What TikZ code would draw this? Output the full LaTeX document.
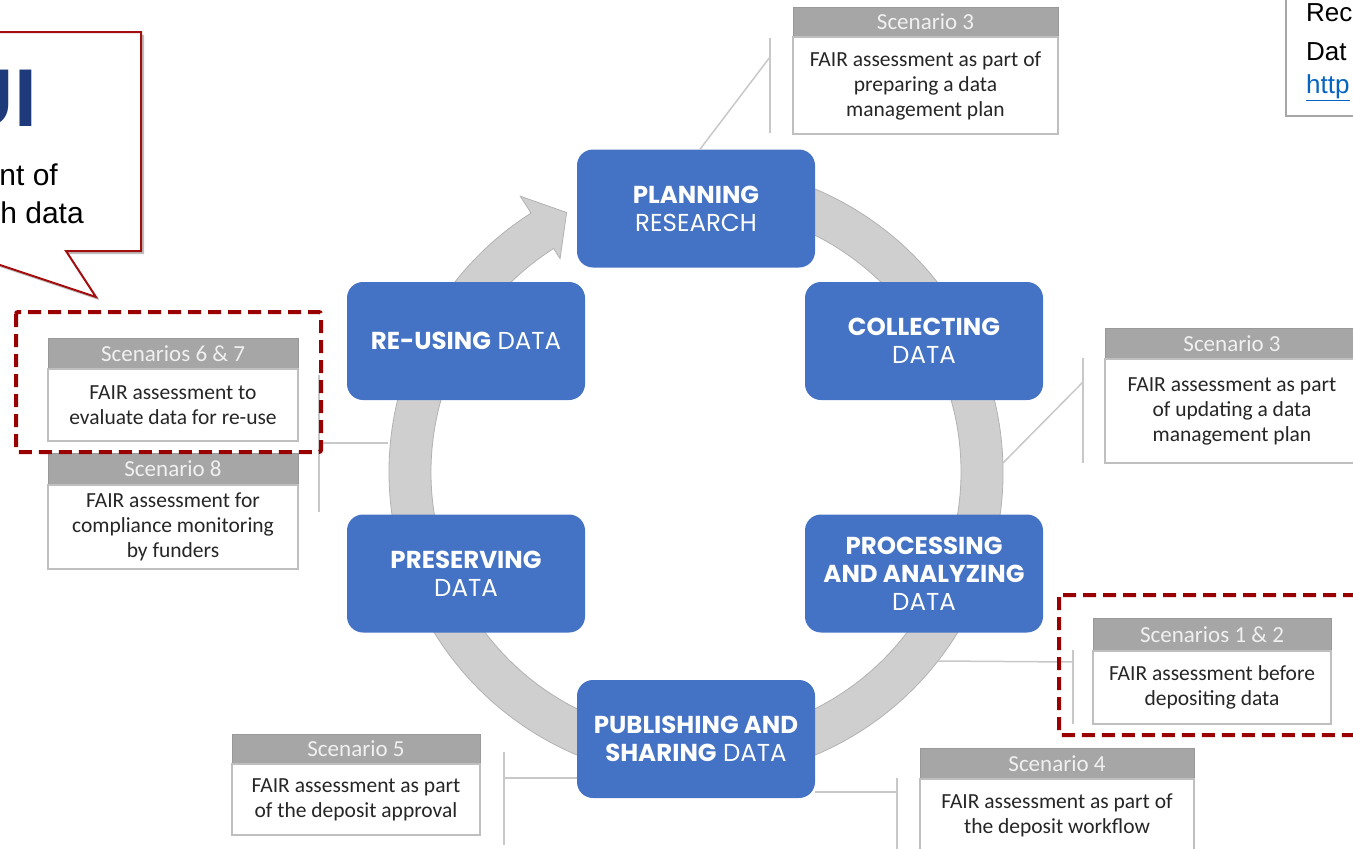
\documentclass[tikz,border=0pt]{standalone}
\usepackage{fontspec}
\setmainfont{Liberation Sans}
\newfontfamily\carlito{Carlito}
\newfontfamily\gothic{Poppins}
\usetikzlibrary{calc,shadows}
\definecolor{boxblue}{HTML}{4472C4}
\definecolor{ringfill}{HTML}{CFCFCF}
\definecolor{ringedge}{HTML}{B2B2B2}
\definecolor{hdrgray}{HTML}{A6A6A6}
\definecolor{hdredge}{HTML}{999999}
\definecolor{hdrtext}{HTML}{F0F0F0}
\definecolor{bodyedge}{HTML}{BFBFBF}
\definecolor{connector}{HTML}{C8C8C8}
\definecolor{darkred}{HTML}{990000}
\definecolor{calloutred}{HTML}{A30F0F}
\definecolor{fujiblue}{HTML}{1F3A7A}
\definecolor{linkblue}{HTML}{0563C1}
\definecolor{framegray}{HTML}{A6A6A6}
\tikzset{
  stage/.style={rounded corners=16pt, fill=boxblue, text=white, minimum width=238pt,
    minimum height=118pt, align=center, font=\gothic\fontsize{24.5}{28}\selectfont, inner sep=0pt},
  hdr/.style={draw=hdredge, fill=hdrgray, text=hdrtext, line width=0.8pt,
    font=\carlito\fontsize{23}{25}\selectfont, inner sep=0pt, minimum height=31pt},
  body/.style={draw=bodyedge, fill=white, line width=1.3pt, text=black!85,
    font=\carlito\fontsize{21.5}{25}\selectfont, align=center, inner sep=0pt},
  conn/.style={draw=connector, line width=1.5pt},
  redframe/.style={draw=darkred, line width=4pt, dash pattern=on 13pt off 7pt, rounded corners=2pt},
  plaintext/.style={inner sep=0pt, font=\fontsize{30}{36}\selectfont, text=black}
}
\begin{document}
\begin{tikzpicture}[x=1pt,y=-1pt]
\useasboundingbox (0,0) rectangle (1353,849);
\clip (0,0) rectangle (1353,849);
% ring with arrow head
\begin{scope}[shift={(696,472)}]
\fill[ringfill, draw=ringedge, line width=0.8pt]
  (-100:307) arc[start angle=-100, end angle=237.5, radius=307]
  -- (237.5:327) -- (243.5:290) -- (237.5:253) -- (237.5:265)
  arc[start angle=237.5, end angle=-100, radius=265] -- cycle;
\end{scope}
% stage boxes
\node[stage] (plan) at (696,208.5) {{\bfseries PLANNING}\\RESEARCH};
\node[stage] (coll) at (924,341) {{\bfseries COLLECTING}\\DATA};
\node[stage] (proc) at (924,573.5) {{\bfseries PROCESSING}\\{\bfseries AND ANALYZING}\\DATA};
\node[stage] (publ) at (696,739) {{\bfseries PUBLISHING AND}\\{\bfseries SHARING} DATA};
\node[stage] (pres) at (466,573.5) {{\bfseries PRESERVING}\\DATA};
\node[stage] (reus) at (466,341) {{\bfseries RE-USING} DATA};
% connector coordinates
\coordinate (ringr) at (1003,463);
\coordinate (ringl) at (388,443);
\coordinate (ringpr) at (938,661);
\coordinate (a1) at (770,57);   \coordinate (a1t) at (770,38);   \coordinate (a1b) at (770,133);
\coordinate (a2) at (1083,382); \coordinate (a2t) at (1083,358); \coordinate (a2b) at (1083,463);
\coordinate (a3) at (319,443);  \coordinate (a3t) at (319,375);  \coordinate (a3b) at (319,512);
\coordinate (a4) at (1073,662); \coordinate (a4t) at (1073,650); \coordinate (a4b) at (1073,724);
\coordinate (a5) at (504,778);  \coordinate (a5t) at (504,752);  \coordinate (a5b) at (504,845);
\coordinate (a6) at (897,792);  \coordinate (a6t) at (897,778);  \coordinate (a6b) at (897,852);
\draw[conn] ($(plan.north)+(4,0)$) -- (a1);  \draw[conn] (a1t) -- (a1b);
\draw[conn] (ringr) -- (a2);                 \draw[conn] (a2t) -- (a2b);
\draw[conn] (ringl) -- (a3);                 \draw[conn] (a3t) -- (a3b);
\draw[conn] (ringpr) -- (a4);                \draw[conn] (a4t) -- (a4b);
\draw[conn] (publ.west |- a5) -- (a5);       \draw[conn] (a5t) -- (a5b);
\draw[conn] (publ.east |- a6) -- (a6);       \draw[conn] (a6t) -- (a6b);
% scenario boxes
\node[hdr, minimum width=265pt, minimum height=30pt] (h3a) at (925.5,22) {Scenario 3};
\node[body, minimum width=265pt, minimum height=97pt] (b3a) at (925.5,85.5) {FAIR assessment as part of\\preparing a data\\management plan};
\node[hdr, minimum width=254pt] (h3b) at (1232,343.5) {Scenario 3};
\node[body, minimum width=254pt, minimum height=104pt] (b3b) at (1232,411) {FAIR assessment as part\\of updating a data\\management plan};
\node[hdr, minimum width=250pt] (h67) at (173,353.5) {Scenarios 6 \& 7};
\node[body, minimum width=250pt, minimum height=72pt] (b67) at (173,405) {FAIR assessment to\\evaluate data for re-use};
\node[hdr, minimum width=250pt, minimum height=32pt] (h8) at (173,469) {Scenario 8};
\node[body, minimum width=250pt, minimum height=84pt] (b8) at (173,527) {FAIR assessment for\\compliance monitoring\\by funders};
\node[hdr, minimum width=238pt, minimum height=33pt] (h12) at (1212,634.5) {Scenarios 1 \& 2};
\node[body, minimum width=238pt, minimum height=73pt] (b12) at (1212,687.5) {FAIR assessment before\\depositing data};
\node[hdr, minimum width=274pt] (h4) at (1057,763.5) {Scenario 4};
\node[body, minimum width=274pt, minimum height=73pt] (b4) at (1057,815.5) {FAIR assessment as part of\\the deposit workflow};
\node[hdr, minimum width=248pt, minimum height=30pt] (h5) at (356,749) {Scenario 5};
\node[body, minimum width=248pt, minimum height=71pt] (b5) at (356,799.5) {FAIR assessment as part\\of the deposit approval};
% dashed highlight frames
\draw[redframe] (16,312) rectangle (321,452);
\draw[redframe] (1059,595) rectangle (1370,735);
% callout top left
\draw[calloutred, line width=2pt, fill=white,
  drop shadow={shadow xshift=3pt, shadow yshift=-3pt, opacity=0.25, fill=black}]
  (-60,32) -- (141,32) -- (141,251) -- (66,251) -- (96,297) -- (-42,251) -- (-60,251) -- cycle;
\node[anchor=base east, inner sep=0pt, text=fujiblue, font=\bfseries\fontsize{82}{82}\selectfont] (ui) at (37,126) {UI};
\node[plaintext, anchor=base east] (t1) at (58,185) {nt of};
\node[plaintext, anchor=base east] (t2) at (84,223) {h data};
% reference box top right
\draw[draw=framegray, line width=2pt, fill=white] (1286,-10) rectangle (1380,116);
\node[plaintext, anchor=base west, font=\fontsize{26}{30}\selectfont] (r1) at (1306,21) {Rec};
\node[plaintext, anchor=base west, font=\fontsize{26}{30}\selectfont] (r2) at (1306,60) {Dat};
\node[plaintext, anchor=base west, font=\fontsize{26}{30}\selectfont, text=linkblue] (r3) at (1306,93) {\underline{http}};
\end{tikzpicture}
\end{document}
